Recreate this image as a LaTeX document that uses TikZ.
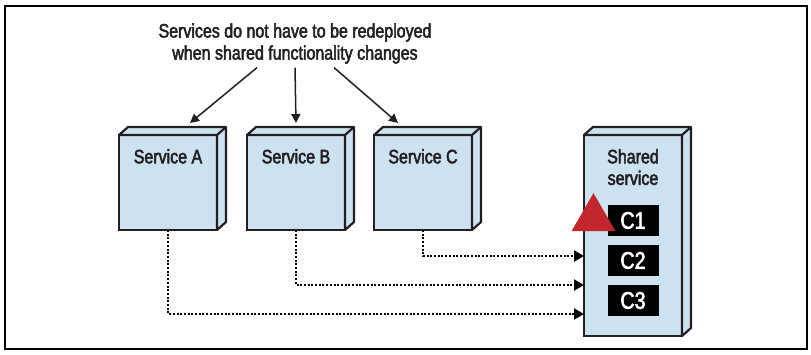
\documentclass[tikz,border=0pt]{standalone}
\usepackage{fontspec}
\setmainfont{Liberation Sans}[FakeStretch=0.82,FakeBold=2.5]
\usepackage{xcolor}
\usetikzlibrary{arrows.meta,positioning,shapes.geometric}
\definecolor{svcblue}{RGB}{204,226,240}
\definecolor{alertred}{RGB}{193,39,45}
\definecolor{inkblack}{RGB}{35,31,32}
\tikzset{
  svcbox/.style={
    rectangle,
    draw=inkblack,
    line width=2.2pt,
    fill=svcblue,
    minimum width=98pt,
    minimum height=95pt,
    inner sep=0pt,
    outer sep=0pt
  },
  svclabel/.style={
    anchor=north,
    yshift=-14pt,
    inner sep=0pt,
    align=center,
    text=inkblack,
    font=\fontsize{19.5}{21.5}\selectfont
  },
  svcdepth/.style={
    draw=inkblack,
    line width=2.2pt,
    fill=svcblue,
    line join=round
  },
  cbox/.style={
    rectangle,
    fill=black,
    minimum width=51pt,
    minimum height=31pt,
    inner sep=0pt,
    outer sep=0pt,
    text=white,
    font=\fontsize{24}{24}\selectfont
  },
  alertmark/.style={
    regular polygon,
    regular polygon sides=3,
    fill=alertred,
    minimum size=50.8pt,
    inner sep=0pt,
    outer sep=0pt
  },
  notetext/.style={
    align=center,
    inner sep=4pt,
    outer sep=0pt,
    text=inkblack,
    font=\fontsize{19.5}{22}\selectfont
  },
  flowarrow/.style={
    -{Triangle[length=9pt,width=9pt]},
    line width=1.5pt,
    draw=inkblack
  },
  dotarrow/.style={
    -{Triangle[length=10pt,width=11pt]},
    line width=2pt,
    dash pattern=on 2pt off 1.7pt,
    draw=black
  }
}

\begin{document}
\begin{tikzpicture}
\useasboundingbox (0pt,0pt) rectangle (811pt,-354pt);
\draw[line width=1.5pt] (5pt,-6pt) rectangle (807pt,-349pt);

\node[notetext] (note) at (295pt,-43.5pt) {Services do not have to be redeployed\\when shared functionality changes};
\node[svcbox, label={[svclabel]north:Service A}] (svcA) at (168pt,-182.5pt) {};
\node[svcbox, label={[svclabel]north:Service B}, right=30pt of svcA] (svcB) {};
\node[svcbox, label={[svclabel]north:Service C}, right=29pt of svcB] (svcC) {};
\node[svcbox, minimum height=201pt, label={[svclabel]north:Shared\\service}, right=112pt of svcC.north east, anchor=north west] (shared) {};

\foreach \n in {svcA,svcB,svcC,shared}{
  \draw[svcdepth] (\n.north west) -- ++(9pt,8pt) -- ([shift={(9pt,8pt)}]\n.north east) -- ([shift={(9pt,8pt)}]\n.south east) -- (\n.south east) -- (\n.north east) -- cycle;
  \draw[svcdepth] (\n.north east) -- ++(9pt,8pt);
}

\node[cbox, below=70pt of shared.north] (c1) {C1};
\node[cbox, below=9pt of c1] (c2) {C2};
\node[cbox, below=9pt of c2] (c3) {C3};
\node[alertmark] (alert) at ([xshift=-14pt,yshift=2pt]c1.west) {};

\draw[flowarrow] ([xshift=-38pt]note.south) -- ([xshift=22pt,yshift=12pt]svcA.north);
\draw[flowarrow] (note.south) -- ([yshift=12pt]svcB.north);
\draw[flowarrow] ([xshift=39pt]note.south) -- ([xshift=-25pt,yshift=12pt]svcC.north);

\draw[dotarrow] (svcC.south) |- ([yshift=-20.5pt]shared.west);
\draw[dotarrow] (svcB.south) |- ([yshift=-49.5pt]shared.west);
\draw[dotarrow] (svcA.south) |- ([yshift=-78.5pt]shared.west);
\end{tikzpicture}
\end{document}
